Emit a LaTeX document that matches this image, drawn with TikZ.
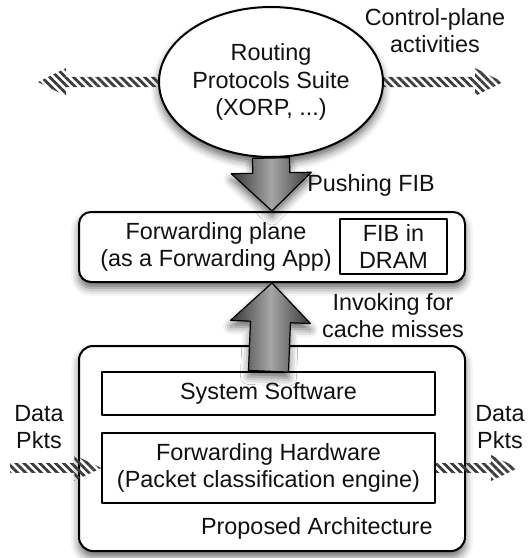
\documentclass[tikz,border=0pt]{standalone}
\usepackage{fontspec}
\setmainfont{Liberation Sans}
\usetikzlibrary{arrows.meta,calc,patterns.meta,positioning,shadows.blur,shapes.geometric}
\definecolor{faInk}{HTML}{111111}
\definecolor{faDark}{HTML}{363636}
\definecolor{faLight}{HTML}{A6A6A6}
\definecolor{faHatch}{HTML}{3C3C3C}
\tikzset{
  fa diagram/.style={x=0.5pt, y=-0.5pt, text=faInk, line join=round,
    font=\fontsize{11.7}{13.6}\selectfont},
  fa shadow/.style={blur shadow={shadow xshift=0pt, shadow yshift=-3pt,
    shadow blur radius=4pt, shadow opacity=60}},
  fa plane/.style={draw=black, fill=white, line width=1pt,
    rounded corners=6pt, inner sep=0pt, fa shadow},
  fa cloud/.style={ellipse, draw=black, fill=white, line width=1pt,
    inner sep=0pt, align=center, fa shadow},
  fa part/.style={draw=black, fill=white, line width=0.75pt,
    inner sep=0pt, align=center},
  fa text/.style={align=center, inner sep=0pt},
  fa fat/.style={draw=black, line width=0.6pt, left color=faDark,
    right color=faDark, middle color=faLight, fa shadow},
  fa hatch/.style={pattern={Lines[angle=-45,distance=2.8pt,line width=1.4pt]},
    pattern color=faHatch}
}
% block arrow from #2 to #3: half shaft #4, half head #5, head length #6
\newcommand\faarrow[6]{%
  \coordinate (fa base) at ($(#3)!#6!(#2)$);
  \path[#1] ($(#2)!#4!90:(#3)$) -- ($(fa base)!#4!90:(#3)$)
    -- ($(fa base)!#5!90:(#3)$) -- (#3) -- ($(fa base)!#5!-90:(#3)$)
    -- ($(fa base)!#4!-90:(#3)$) -- ($(#2)!#4!-90:(#3)$) -- cycle;
}

\begin{document}
\begin{tikzpicture}[fa diagram]
\useasboundingbox (0,0) rectangle (528,558);

% control plane
\node[fa cloud, minimum width=112pt, minimum height=75pt] (routing) at (271,82)
  {Routing\\Protocols Suite\\(XORP, ...)};
\coordinate (ctl west) at (38,82);
\coordinate (ctl east) at (503,82);
\faarrow{fa hatch}{routing.west}{ctl west}{2.6pt}{7pt}{14pt}
\faarrow{fa hatch}{routing.east}{ctl east}{2.6pt}{7pt}{14pt}
\node[fa text] (ctl label) at (435,31) {Control-plane\\activities};

% forwarding plane
\node[fa plane, minimum width=193pt, minimum height=35pt] (fwd) at (272,247) {};
\node[fa text] (fwd label) at (216,247) {Forwarding plane\\(as a Forwarding App)};
\node[fa part, minimum width=53.5pt, minimum height=27.5pt] (fib) at (393.5,246.5)
  {FIB in\\DRAM};
\faarrow{fa fat}{routing.south}{fwd.north}{9.25pt}{20pt}{19pt}
\node[fa text] (push label) at (371,185) {Pushing FIB};

% proposed architecture
\node[fa plane, rounded corners=7pt, minimum width=193pt, minimum height=102.5pt]
  (arch) at (272,448.5) {};
\node[fa part, minimum width=166.5pt, minimum height=21.5pt] (sw) at (268.5,393.5)
  {System Software};
\node[fa part, minimum width=166.5pt, minimum height=35pt] (hw) at (268.5,468)
  {Forwarding Hardware\\(Packet classification engine)};
\node[fa text, anchor=east] (arch label) at (433,528) {Proposed Architecture};
\faarrow{fa fat}{sw.north}{fwd.south}{10pt}{20pt}{19.5pt}
\node[fa text] (miss label) at (393,316) {Invoking for\\cache misses};

% data packets
\coordinate (pkt in) at (10,468);
\coordinate (pkt out) at (518,468);
\faarrow{fa hatch}{pkt in}{hw.west}{2.4pt}{6.5pt}{13.5pt}
\faarrow{fa hatch}{hw.east}{pkt out}{2.4pt}{6.5pt}{13.5pt}
\node[fa text] (in label) at (39,427) {Data\\Pkts};
\node[fa text] (out label) at (500,427) {Data\\Pkts};
\end{tikzpicture}
\end{document}
